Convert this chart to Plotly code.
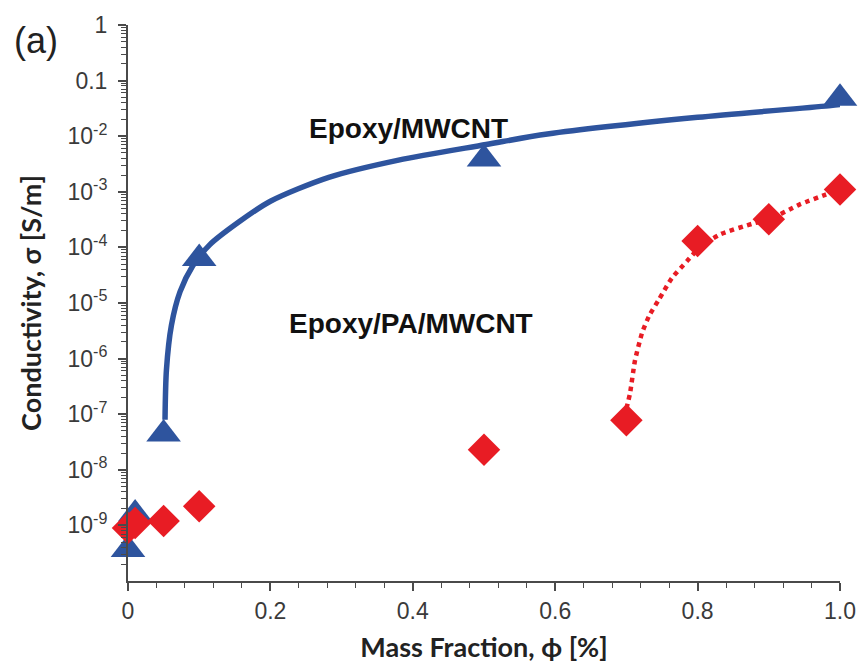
import plotly.graph_objects as go

# ---- data ----
blue_x = [0.0, 0.01, 0.05, 0.1, 0.5, 1.0]
blue_y = [3.7e-10, 1.6e-9, 4.4e-8, 6.3e-5, 3.9e-3, 0.048]

red_x = [0.0, 0.01, 0.05, 0.1, 0.5, 0.7, 0.8, 0.9, 1.0]
red_y = [9e-10, 1.1e-9, 1.2e-9, 2.2e-9, 2.3e-8, 7.8e-8, 1.3e-4, 3.2e-4, 1.1e-3]

# fitted curves (phi, log10 sigma)
blue_fit_x = [0.052, 0.054, 0.061, 0.073, 0.091, 0.115, 0.156, 0.2, 0.282, 0.38, 0.503, 0.589, 0.80, 0.987, 1.0]
blue_fit_log = [-7.1, -6.2, -5.4, -4.8, -4.33, -3.95, -3.54, -3.17, -2.74, -2.43, -2.15, -1.96, -1.66, -1.45, -1.43]

red_fit_x = [0.700, 0.705, 0.712, 0.722, 0.732, 0.746, 0.764, 0.785, 0.803, 0.831, 0.878, 0.9, 0.943, 0.98, 1.0]
red_fit_log = [-6.9, -6.63, -6.04, -5.54, -5.23, -4.93, -4.55, -4.25, -4.0, -3.77, -3.57, -3.5, -3.23, -3.05, -2.96]

x_ticks = [0, 0.2, 0.4, 0.6, 0.8, 1.0]
x_ticktext = ["0", "0.2", "0.4", "0.6", "0.8", "1.0"]
y_exps = [-9, -8, -7, -6, -5, -4, -3, -2, -1, 0]
y_ticktext = ["10<sup>-9</sup>", "10<sup>-8</sup>", "10<sup>-7</sup>", "10<sup>-6</sup>",
              "10<sup>-5</sup>", "10<sup>-4</sup>", "10<sup>-3</sup>", "10<sup>-2</sup>",
              "0.1", "1"]

label_blue = "Epoxy/MWCNT"
label_red = "Epoxy/PA/MWCNT"
panel = "(a)"
x_title = "Mass Fraction, ϕ [%]"
y_title = "Conductivity, σ [S/m]"

BLUE = "rgb(46,84,158)"
RED = "rgb(232,28,36)"
AX = "#4a4a4a"

y_tickvals = [10.0 ** e for e in y_exps]
minor_vals = [k * 10.0 ** d for d in range(-10, 0) for k in range(2, 10)]

fig = go.Figure()
fig.add_trace(go.Scatter(x=blue_fit_x, y=[10 ** v for v in blue_fit_log], mode="lines",
                         line=dict(color=BLUE, width=5.5, shape="spline", smoothing=0.8),
                         showlegend=False, hoverinfo="skip"))
fig.add_trace(go.Scatter(x=red_fit_x, y=[10 ** v for v in red_fit_log], mode="lines",
                         line=dict(color=RED, width=4.5, dash="dot", shape="spline", smoothing=0.6),
                         showlegend=False, hoverinfo="skip"))
fig.add_trace(go.Scatter(x=blue_x, y=blue_y, mode="markers",
                         marker=dict(symbol="triangle-up", size=30, color=BLUE),
                         cliponaxis=False, showlegend=False))
fig.add_trace(go.Scatter(x=red_x, y=red_y, mode="markers",
                         marker=dict(symbol="diamond", size=25, color=RED),
                         cliponaxis=False, showlegend=False))

tickfont = dict(family="Liberation Sans, Arial", size=23, color="#3a3a3a")
titlefont = dict(family="Lato, Open Sans", size=27, color="#222222", weight="bold")

fig.update_xaxes(range=[0, 1], tickvals=x_ticks, ticktext=x_ticktext,
                 showline=True, linecolor=AX, linewidth=2, showgrid=False, zeroline=False,
                 ticks="outside", ticklen=8, tickwidth=1.5, tickcolor=AX,
                 minor=dict(dtick=0.04, ticks="outside", ticklen=5, tickwidth=1.2, tickcolor=AX),
                 tickfont=tickfont,
                 title=dict(text="<b>" + x_title + "</b>", font=titlefont, standoff=16))
fig.update_yaxes(type="log", range=[-10, 0], tickvals=y_tickvals, ticktext=y_ticktext,
                 showline=True, linecolor=AX, linewidth=2, showgrid=False, zeroline=False,
                 ticks="outside", ticklen=8, tickwidth=1.5, tickcolor=AX,
                 minor=dict(tickvals=minor_vals, ticks="outside", ticklen=5, tickwidth=1.2, tickcolor=AX),
                 tickfont=tickfont, ticklabelstandoff=6,
                 title=dict(text="<b>" + y_title + "</b>", font=titlefont, standoff=18))

fig.add_annotation(text="<b>" + label_blue + "</b>", xref="paper", yref="paper",
                   x=0.394, y=0.846, showarrow=False,
                   font=dict(family="Liberation Sans, Arial", size=28, color="#111111"))
fig.add_annotation(text="<b>" + label_red + "</b>", xref="paper", yref="paper",
                   x=0.397, y=0.4625, showarrow=False,
                   font=dict(family="Liberation Sans, Arial", size=28, color="#111111"))
fig.add_annotation(text=panel, xref="paper", yref="paper",
                   x=-0.163, y=1.012, xanchor="left", yanchor="top", showarrow=False,
                   font=dict(family="Liberation Sans, Arial", size=36, color="#222222"))

fig.update_layout(width=868, height=670, margin=dict(l=128, r=24, t=22, b=88),
                  paper_bgcolor="white", plot_bgcolor="white")

fig.write_html("out.html")
